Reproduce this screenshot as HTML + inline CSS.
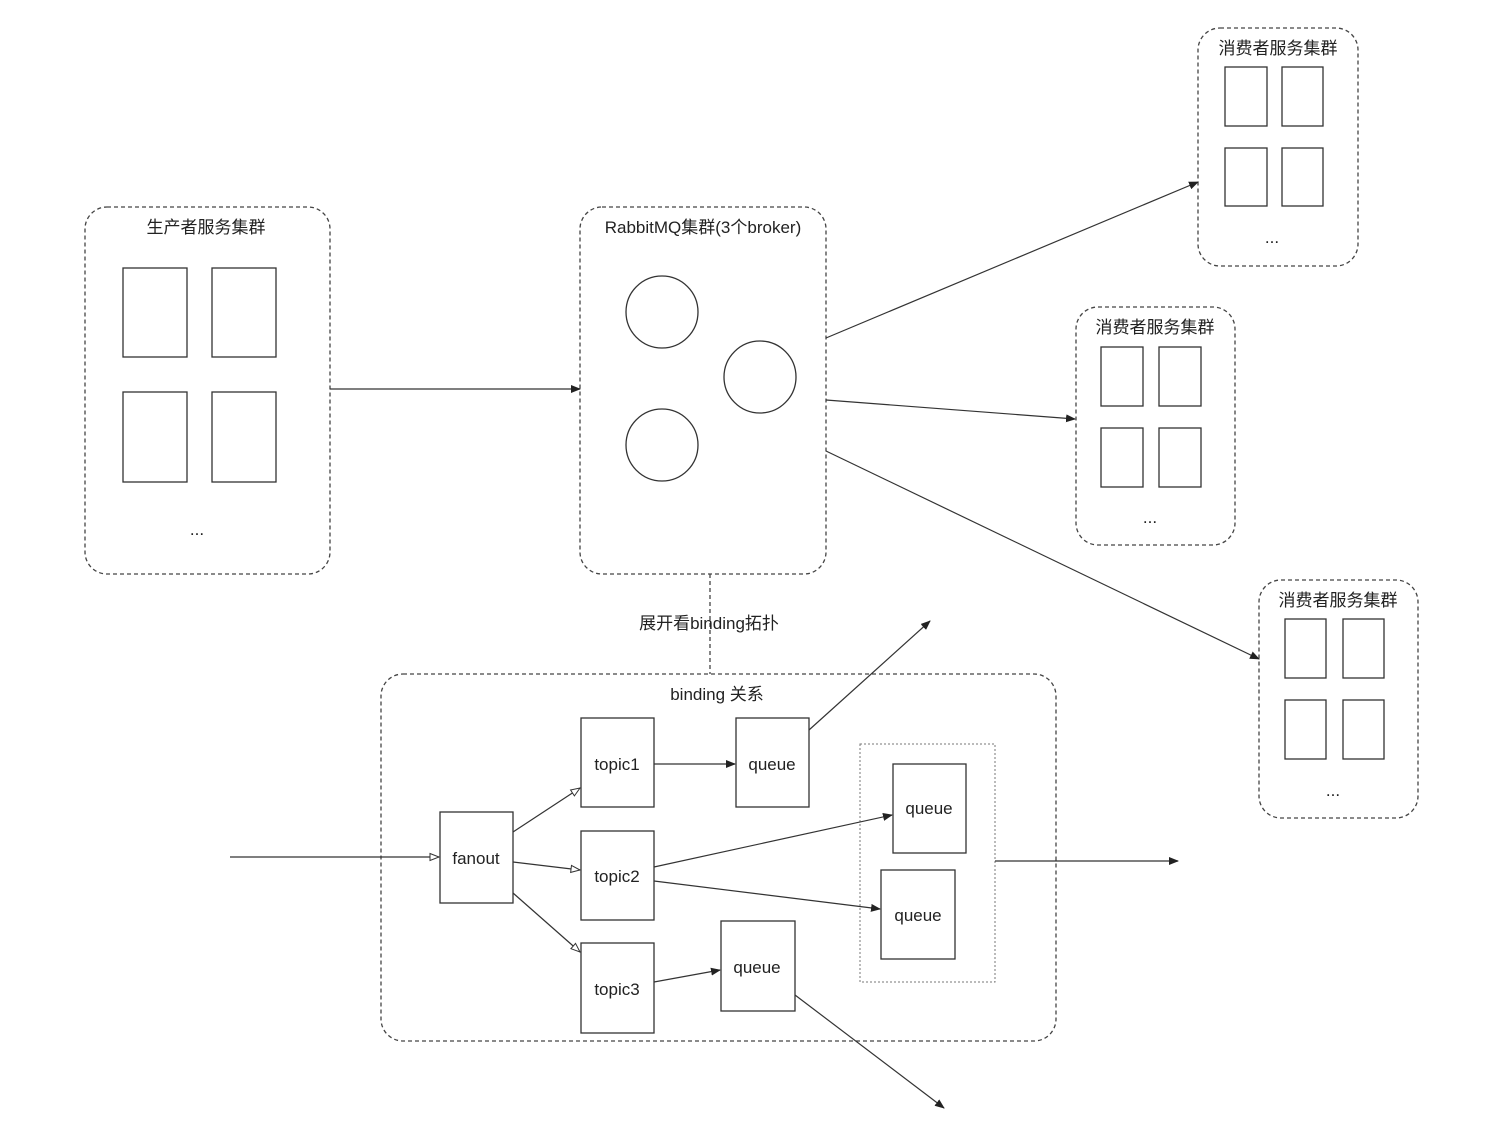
<!DOCTYPE html>
<html><head><meta charset="utf-8"><style>
html,body{margin:0;padding:0;background:#fff}
svg{display:block}
text{font-family:"Liberation Sans","Noto Sans CJK SC",sans-serif;fill:#222}
</style></head><body>
<svg width="1504" height="1134" viewBox="0 0 1504 1134" xmlns="http://www.w3.org/2000/svg">
<defs>
<marker id="a" markerWidth="10" markerHeight="8" refX="9" refY="4" orient="auto" markerUnits="userSpaceOnUse"><path d="M0,0 L10,4 L0,8 Z" fill="#222"/></marker>
<marker id="o" markerWidth="11" markerHeight="9" refX="10" refY="4.5" orient="auto" markerUnits="userSpaceOnUse"><path d="M1,1 L10,4.5 L1,8 Z" fill="#fff" stroke="#333" stroke-width="1"/></marker>
</defs>
<g fill="none" stroke="#444" stroke-width="1.3" stroke-dasharray="4,3">
<rect x="85" y="207" width="245" height="367" rx="22"/>
<rect x="580" y="207" width="246" height="367" rx="22"/>
<rect x="1198" y="28" width="160" height="238" rx="22"/>
<rect x="1076" y="307" width="159" height="238" rx="22"/>
<rect x="1259" y="580" width="159" height="238" rx="22"/>
<rect x="381" y="674" width="675" height="367" rx="22"/>
<line x1="710" y1="574" x2="710" y2="674"/>
</g>
<rect x="860" y="744" width="135" height="238" fill="none" stroke="#777" stroke-width="1" stroke-dasharray="2,2"/>
<g fill="#fff" stroke="#333" stroke-width="1.3">
<rect x="123" y="268" width="64" height="89"/><rect x="212" y="268" width="64" height="89"/>
<rect x="123" y="392" width="64" height="90"/><rect x="212" y="392" width="64" height="90"/>
<circle cx="662" cy="312" r="36"/><circle cx="760" cy="377" r="36"/><circle cx="662" cy="445" r="36"/>
<rect x="1225" y="67" width="42" height="59"/><rect x="1282" y="67" width="41" height="59"/>
<rect x="1225" y="148" width="42" height="58"/><rect x="1282" y="148" width="41" height="58"/>
<rect x="1101" y="347" width="42" height="59"/><rect x="1159" y="347" width="42" height="59"/>
<rect x="1101" y="428" width="42" height="59"/><rect x="1159" y="428" width="42" height="59"/>
<rect x="1285" y="619" width="41" height="59"/><rect x="1343" y="619" width="41" height="59"/>
<rect x="1285" y="700" width="41" height="59"/><rect x="1343" y="700" width="41" height="59"/>
<rect x="440" y="812" width="73" height="91"/>
<rect x="581" y="718" width="73" height="89"/>
<rect x="581" y="831" width="73" height="89"/>
<rect x="581" y="943" width="73" height="90"/>
<rect x="736" y="718" width="73" height="89"/>
<rect x="893" y="764" width="73" height="89"/>
<rect x="881" y="870" width="74" height="89"/>
<rect x="721" y="921" width="74" height="90"/>
</g>
<g stroke="#333" stroke-width="1.2" fill="none">
<line x1="330" y1="389" x2="580" y2="389" marker-end="url(#a)"/>
<line x1="826" y1="338" x2="1198" y2="182" marker-end="url(#a)"/>
<line x1="826" y1="400" x2="1075" y2="419" marker-end="url(#a)"/>
<line x1="826" y1="451" x2="1259" y2="659" marker-end="url(#a)"/>
<line x1="230" y1="857" x2="439" y2="857" marker-end="url(#o)"/>
<line x1="513" y1="832" x2="580" y2="788" marker-end="url(#o)"/>
<line x1="513" y1="862" x2="580" y2="870" marker-end="url(#o)"/>
<line x1="513" y1="893" x2="580" y2="952" marker-end="url(#o)"/>
<line x1="654" y1="764" x2="735" y2="764" marker-end="url(#a)"/>
<line x1="654" y1="867" x2="892" y2="815" marker-end="url(#a)"/>
<line x1="654" y1="881" x2="880" y2="909" marker-end="url(#a)"/>
<line x1="654" y1="982" x2="720" y2="970" marker-end="url(#a)"/>
<line x1="809" y1="730" x2="930" y2="621" marker-end="url(#a)"/>
<line x1="795" y1="995" x2="944" y2="1108" marker-end="url(#a)"/>
<line x1="995" y1="861" x2="1178" y2="861" marker-end="url(#a)"/>
</g>
<g font-size="17" text-anchor="middle">
<text x="206" y="233">生产者服务集群</text>
<text x="703" y="233">RabbitMQ集群(3个broker)</text>
<text x="1278" y="54">消费者服务集群</text>
<text x="1155" y="333">消费者服务集群</text>
<text x="1338" y="606">消费者服务集群</text>
<text x="197" y="535">...</text>
<text x="1272" y="243">...</text>
<text x="1150" y="523">...</text>
<text x="1333" y="796">...</text>
<text x="709" y="629" fill="#fff" style="fill:#222">展开看binding拓扑</text>
<text x="717" y="700">binding 关系</text>
<text x="476" y="864">fanout</text>
<text x="617" y="770">topic1</text>
<text x="617" y="882">topic2</text>
<text x="617" y="995">topic3</text>
<text x="772" y="770">queue</text>
<text x="929" y="814">queue</text>
<text x="918" y="921">queue</text>
<text x="757" y="973">queue</text>
</g>
</svg>
</body></html>
